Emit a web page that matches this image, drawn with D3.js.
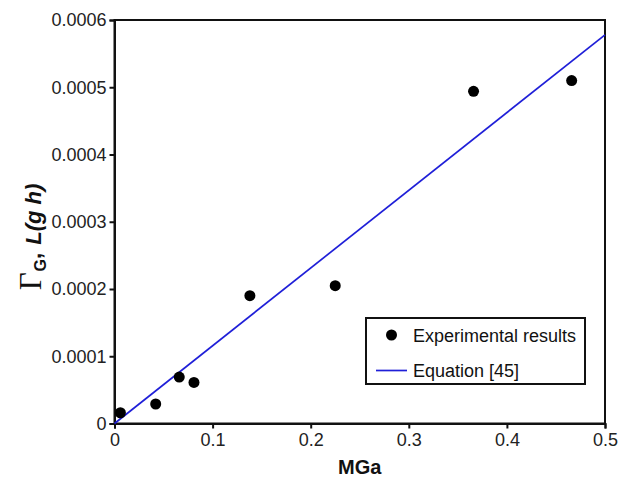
<!DOCTYPE html>
<html><head><meta charset="utf-8">
<script src="https://cdn.jsdelivr.net/npm/d3@7"></script>
<style>body{margin:0;background:#fff}svg{display:block}</style>
</head><body>
<script>
const expX = [0.006, 0.042, 0.066, 0.081, 0.138, 0.225, 0.366, 0.466];
const expY = [0.000016, 0.000029, 0.000069, 0.000061, 0.00019, 0.000205, 0.000494, 0.00051];
const eqX = [0, 0.5];
const eqY = [0, 0.000578];
const xTicks = [0, 0.1, 0.2, 0.3, 0.4, 0.5];
const yTicks = [0, 0.0001, 0.0002, 0.0003, 0.0004, 0.0005, 0.0006];
const legendLabels = ["Experimental results", "Equation [45]"];

const W = 620, H = 484;
const m = {l: 114.5, r: 605, t: 20, b: 423.5};
const svg = d3.select("body").append("svg").attr("width", W).attr("height", H);
const x = d3.scaleLinear().domain([0, 0.5]).range([m.l, m.r]);
const y = d3.scaleLinear().domain([0, 0.0006]).range([m.b, m.t]);
const font = "Liberation Sans, Arial, sans-serif";

// frame
svg.append("rect").attr("x", m.l).attr("y", m.t).attr("width", m.r - m.l).attr("height", m.b - m.t)
  .attr("fill", "none").attr("stroke", "#111").attr("stroke-width", 2);

const xa = svg.append("g").attr("transform", `translate(0,${m.b})`)
  .call(d3.axisBottom(x).tickValues(xTicks).tickSize(5).tickPadding(5).tickFormat(d => d3.format("")(d)));
const ya = svg.append("g").attr("transform", `translate(${m.l},0)`)
  .call(d3.axisLeft(y).tickValues(yTicks).tickSize(5).tickPadding(3).tickFormat(d => d === 0 ? "0" : d.toFixed(4)));
[xa, ya].forEach(a => {
  a.select(".domain").attr("stroke", "#111").attr("stroke-width", 2);
  a.selectAll(".tick line").attr("stroke", "#111").attr("stroke-width", 2);
  a.selectAll(".tick text").attr("font-family", font).attr("font-size", 18).attr("fill", "#222");
});

// equation line
const line = d3.line().x((d, i) => x(eqX[i])).y((d, i) => y(eqY[i]));
svg.append("path").datum(eqX).attr("d", line).attr("fill", "none").attr("stroke", "#1f1fd8").attr("stroke-width", 1.7);

// points
svg.append("g").selectAll("circle").data(expX).join("circle")
  .attr("cx", d => x(d)).attr("cy", (d, i) => y(expY[i])).attr("r", 5.5).attr("fill", "#000");

// axis titles
svg.append("text").attr("x", (m.l + m.r) / 2).attr("y", 474).attr("text-anchor", "middle")
  .attr("font-family", font).attr("font-size", 20).attr("font-weight", "bold").attr("fill", "#111").text("MGa");

const yt = svg.append("text").attr("transform", "translate(41,237) rotate(-90)").attr("text-anchor", "middle")
  .attr("font-family", font).attr("font-size", 22).attr("font-weight", "bold").attr("fill", "#111");
yt.append("tspan").attr("font-family", "Liberation Serif, Times New Roman, serif").attr("font-weight", "normal").attr("font-size", 31).text("Γ");
yt.append("tspan").attr("font-size", 16).attr("dy", 5).attr("dx", 1).text("G");
yt.append("tspan").attr("dy", -5).text(", ");
yt.append("tspan").attr("font-style", "italic").attr("dx", 2).text("L(g h)");

// legend
const lg = svg.append("g");
lg.append("rect").attr("x", 366).attr("y", 318).attr("width", 219).attr("height", 66)
  .attr("fill", "#fff").attr("stroke", "#111").attr("stroke-width", 2);
lg.append("circle").attr("cx", 391.5).attr("cy", 335).attr("r", 5.5).attr("fill", "#000");
lg.append("line").attr("x1", 376).attr("x2", 407).attr("y1", 370.5).attr("y2", 370.5).attr("stroke", "#1f1fd8").attr("stroke-width", 1.7);
lg.selectAll("text.l").data(legendLabels).join("text").attr("class", "l")
  .attr("x", 413).attr("y", (d, i) => 341.5 + i * 35.5)
  .attr("font-family", font).attr("font-size", 18).attr("fill", "#111").text(d => d);
</script>
</body></html>
